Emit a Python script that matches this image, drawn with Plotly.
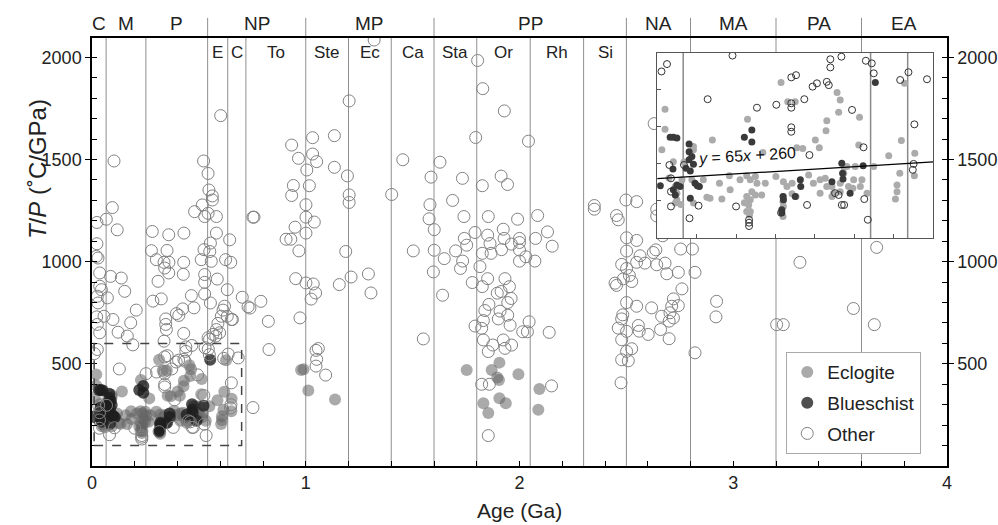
import plotly.graph_objects as go

FONT = "Liberation Sans, Arial, Helvetica, sans-serif"

# ---------------- data (age in Ga, T/P in °C/GPa) ----------------
eclogite = [
    (0.020, 448), (0.020, 394), (0.012, 338), (0.041, 306), (0.046, 239), (0.050, 221), (0.050, 203),
    (0.046, 194), (0.063, 257), (0.088, 257), (0.117, 257), (0.126, 210), (0.134, 207), (0.092, 194),
    (0.158, 248), (0.185, 230), (0.164, 205), (0.140, 365), (0.092, 347), (0.092, 338), (0.030, 262),
    (0.068, 305), (0.060, 190),
    (0.229, 421), (0.210, 257), (0.227, 268), (0.236, 257), (0.249, 266), (0.253, 248), (0.274, 248),
    (0.240, 225), (0.249, 216), (0.227, 212), (0.221, 195), (0.236, 203), (0.232, 189), (0.227, 171),
    (0.236, 171), (0.234, 162), (0.265, 216), (0.268, 331), (0.301, 266), (0.183, 268),
    (0.314, 520), (0.331, 468), (0.350, 468), (0.354, 344), (0.369, 342), (0.401, 365), (0.411, 344),
    (0.320, 252), (0.329, 239), (0.342, 248), (0.342, 219), (0.352, 212), (0.320, 212), (0.319, 198),
    (0.320, 185), (0.319, 158), (0.384, 270), (0.396, 248), (0.413, 221), (0.413, 257), (0.426, 261),
    (0.428, 390), (0.430, 417), (0.430, 239),
    (0.443, 239), (0.447, 221), (0.443, 212), (0.456, 493), (0.464, 473), (0.460, 440), (0.464, 248),
    (0.464, 225), (0.473, 275), (0.474, 291), (0.485, 239), (0.498, 257), (0.496, 234), (0.513, 426),
    (0.511, 351), (0.515, 239), (0.519, 257), (0.532, 221), (0.502, 293), (0.481, 293), (0.549, 293),
    (0.587, 322), (0.619, 363), (0.627, 518), (0.653, 329), (0.652, 268), (0.615, 275), (0.608, 243),
    (0.608, 225), (0.604, 205),
    (0.978, 470), (0.990, 473), (1.012, 370), (1.137, 325),
    (1.753, 470), (1.870, 470), (1.906, 506), (1.896, 433), (1.904, 421), (1.995, 449), (1.831, 307),
    (1.854, 259), (1.906, 332), (1.936, 307), (2.093, 377), (2.088, 275),
]

blueschist = [
    (0.033, 372), (0.041, 372), (0.050, 370), (0.081, 354), (0.081, 333), (0.088, 320), (0.081, 311),
    (0.092, 299), (0.084, 281), (0.073, 288), (0.040, 286), (0.008, 241), (0.050, 243), (0.041, 230),
    (0.046, 216), (0.058, 239), (0.096, 248), (0.102, 241), (0.107, 239), (0.084, 207),
    (0.221, 372), (0.240, 392), (0.240, 359), (0.319, 212), (0.320, 203), (0.316, 176), (0.316, 168),
    (0.350, 212), (0.363, 257), (0.364, 239), (0.443, 252),
    (0.468, 302), (0.470, 275), (0.471, 259), (0.489, 221), (0.522, 295), (0.553, 520),
]

other = [
    # 0-0.7 Ga, T/P < 600 (also shown in inset)
    (0.191, 593), (0.025, 570), (0.011, 550), (0.128, 475), (0.253, 452), (0.302, 460), (0.340, 534),
    (0.352, 540), (0.340, 464), (0.340, 452), (0.373, 475), (0.394, 509), (0.405, 518), (0.430, 522),
    (0.435, 513), (0.439, 583), (0.439, 561), (0.467, 590), (0.494, 446), (0.529, 579), (0.544, 572),
    (0.549, 545), (0.616, 527), (0.637, 548), (0.684, 529), (0.652, 407), (0.340, 399), (0.340, 387),
    (0.523, 345), (0.386, 324), (0.031, 297), (0.035, 261), (0.068, 297), (0.650, 300), (0.648, 284),
    (0.451, 221), (0.460, 216), (0.468, 189), (0.474, 189), (0.380, 189), (0.314, 168), (0.200, 185),
    (0.105, 187), (0.035, 185), (0.082, 153), (0.534, 149), (0.525, 205), (0.233, 149), (0.233, 141),
    (0.233, 132), (0.035, 225),
    # 0-0.8 Ga, higher T/P
    (0.602, 1715), (0.103, 1493), (0.522, 1493), (0.543, 1432), (0.547, 1351), (0.563, 1322),
    (0.563, 1302), (0.516, 1278), (0.480, 1245), (0.527, 1221), (0.582, 1221), (0.543, 1237),
    (0.095, 1265), (0.067, 1208), (0.023, 1192), (0.118, 1156), (0.753, 1218), (0.282, 1148),
    (0.359, 1132), (0.430, 1140), (0.582, 1140), (0.644, 1107), (0.554, 1091), (0.023, 1088),
    (0.524, 1059), (0.551, 1050), (0.278, 1054), (0.351, 1055), (0.020, 1026), (0.028, 1018),
    (0.301, 1010), (0.360, 997), (0.337, 997), (0.340, 969), (0.429, 997), (0.511, 1010), (0.558, 1002),
    (0.625, 1010), (0.649, 997), (0.036, 945), (0.359, 945), (0.427, 938), (0.087, 928), (0.137, 920),
    (0.527, 937), (0.527, 899), (0.309, 904), (0.586, 915), (0.036, 880), (0.044, 863), (0.153, 855),
    (0.633, 863), (0.025, 831), (0.072, 823), (0.285, 807), (0.324, 818), (0.465, 834), (0.527, 842),
    (0.703, 826), (0.028, 798), (0.554, 798), (0.730, 779), (0.207, 763), (0.477, 774), (0.424, 769),
    (0.395, 746), (0.406, 737), (0.620, 782), (0.613, 763), (0.633, 733), (0.652, 717), (0.022, 730),
    (0.056, 733), (0.098, 717), (0.181, 701), (0.345, 720), (0.345, 693), (0.589, 698), (0.582, 668),
    (0.597, 652), (0.566, 644), (0.122, 655), (0.165, 636), (0.025, 693), (0.036, 652), (0.337, 611),
    (0.429, 649), (0.543, 628), (0.657, 717), (0.348, 668), (0.605, 733), (0.579, 636), (0.550, 620),
    (0.753, 286),
    # 0.7-1.7 Ga
    (0.758, 1218), (0.790, 806), (0.739, 773), (0.825, 708), (0.828, 570), (0.934, 1571), (0.966, 1506),
    (1.005, 1449), (0.942, 1373), (0.934, 1324), (1.032, 1607), (1.032, 1527), (1.051, 1490),
    (1.134, 1617), (1.134, 1462), (1.203, 1787), (1.195, 1420), (1.203, 1327), (1.203, 1290),
    (1.017, 1372), (1.001, 1279), (1.001, 1218), (1.001, 1140), (1.040, 1194), (0.950, 1169),
    (0.908, 1110), (0.930, 1110), (0.968, 1053), (1.187, 1050), (0.953, 917), (1.001, 896), (1.035, 891),
    (1.046, 847), (1.025, 817), (1.157, 888), (1.212, 925), (1.293, 940), (1.305, 847), (0.973, 725),
    (1.059, 575), (1.048, 566), (1.051, 522), (1.048, 489), (1.093, 445), (1.454, 1499), (1.402, 1329),
    (1.503, 1053), (1.550, 622), (1.586, 1414), (1.628, 1487), (1.581, 1279), (1.577, 1210),
    (1.601, 1157), (1.601, 1056), (1.648, 1015), (1.597, 950), (1.640, 836), (1.687, 1300), (1.320, 2085),
    # 1.7-2.2 Ga
    (1.804, 1985), (1.828, 1847), (1.929, 1738), (1.795, 1608), (2.042, 1590), (1.733, 1408),
    (1.914, 1419), (1.944, 1378), (1.826, 1372), (1.740, 1221), (1.854, 1221), (1.991, 1208),
    (2.085, 1226), (1.701, 1053), (1.734, 1003), (1.724, 967), (1.742, 1114), (1.753, 1081),
    (1.792, 1143), (1.851, 1130), (1.862, 1089), (1.867, 1041), (1.826, 1041), (1.924, 1159),
    (1.928, 1114), (1.962, 1086), (1.916, 1059), (2.000, 1114), (2.000, 1094), (2.000, 1057),
    (2.000, 1003), (2.030, 1024), (2.075, 1114), (2.131, 1146), (2.153, 1076), (2.072, 1003),
    (1.815, 976), (1.779, 898), (1.826, 878), (1.851, 917), (1.932, 917), (1.896, 846), (1.914, 854),
    (1.953, 878), (1.961, 820), (1.945, 800), (1.857, 791), (1.838, 761), (1.831, 712), (1.909, 758),
    (1.945, 738), (1.956, 689), (1.901, 720), (1.792, 685), (1.823, 674), (2.045, 706), (2.015, 657),
    (2.037, 657), (2.139, 654), (1.831, 617), (1.875, 592), (1.924, 617), (1.963, 592), (1.854, 560),
    (1.932, 576), (1.823, 400), (1.859, 400), (2.150, 392), (1.854, 149),
    # 2.3-3.7 Ga
    (2.350, 1275), (2.350, 1257), (2.454, 1226), (2.462, 1205), (2.498, 1302), (2.501, 1117),
    (2.501, 1052), (2.478, 987), (2.501, 967), (2.514, 932), (2.486, 916), (2.525, 903), (2.447, 895),
    (2.454, 884), (2.501, 800), (2.483, 740), (2.478, 720), (2.462, 675), (2.501, 659), (2.478, 618),
    (2.501, 561), (2.525, 574), (2.478, 520), (2.509, 515), (2.475, 407), (2.548, 1294), (2.630, 1676),
    (2.642, 1257), (2.681, 1237), (2.705, 1254), (2.642, 1224), (2.673, 1197), (2.548, 1104),
    (2.670, 1127), (2.754, 1062), (2.809, 1062), (3.671, 1070), (2.564, 1029), (2.626, 1045),
    (2.638, 1058), (2.548, 997), (2.587, 993), (2.642, 985), (2.681, 993), (2.689, 941), (2.743, 948),
    (2.821, 948), (3.312, 997), (2.760, 867), (2.720, 818), (2.712, 782), (2.743, 785), (2.704, 750),
    (2.720, 725), (2.665, 733), (2.700, 709), (2.618, 774), (2.548, 782), (2.922, 806), (2.919, 730),
    (3.562, 771), (3.203, 692), (3.234, 692), (3.660, 692), (2.556, 688), (2.560, 660), (2.602, 644),
    (2.660, 668), (2.700, 623), (2.821, 554),
]

# geologic time scale
boundaries = [0.066, 0.252, 0.541, 0.635, 0.72, 1.0, 1.2, 1.4, 1.6, 1.8, 2.05, 2.3, 2.5, 2.8, 3.2, 3.6]
eon_era_boundaries = [0.541, 1.0, 1.6, 2.5, 2.8, 3.2, 3.6]
top_labels = ["C", "M", "P", "NP", "MP", "PP", "NA", "MA", "PA", "EA"]
top_label_age = [0.033, 0.159, 0.397, 0.77, 1.3, 2.05, 2.65, 3.0, 3.4, 3.8]
period_labels = ["E", "C", "To", "Ste", "Ec", "Ca", "Sta", "Or", "Rh", "Si"]
period_label_age = [0.588, 0.678, 0.86, 1.1, 1.3, 1.5, 1.7, 1.925, 2.175, 2.4]
inset_boundaries = [0.066, 0.541, 0.635]

# regression shown in the inset
fit_slope, fit_intercept = 65, 260
fit_age = [0.0, 0.7]
fit_tp = [fit_slope * a + fit_intercept for a in fit_age]

# inset window (dashed box)
box_age = (0.01, 0.70)
box_tp = (100, 600)
inset_range_x = [0, 0.7]
inset_range_y = [100, 600]


def xs(pts):
    return [p[0] for p in pts]


def ys(pts):
    return [p[1] for p in pts]


fig = go.Figure()

# main panel
fig.add_trace(go.Scatter(x=xs(eclogite), y=ys(eclogite), mode="markers", name="Eclogite",
                         legendgroup="e",
                         marker=dict(size=12, color="rgba(100,100,100,0.55)", line=dict(width=0)),
                         xaxis="x", yaxis="y"))
fig.add_trace(go.Scatter(x=xs(blueschist), y=ys(blueschist), mode="markers", name="Blueschist",
                         legendgroup="b",
                         marker=dict(size=12, color="rgba(30,30,30,0.78)", line=dict(width=0)),
                         xaxis="x", yaxis="y"))
fig.add_trace(go.Scatter(x=xs(other), y=ys(other), mode="markers", name="Other",
                         legendgroup="o",
                         marker=dict(size=12, color="rgba(0,0,0,0)", line=dict(width=1, color="#828282")),
                         xaxis="x", yaxis="y"))
# invisible trace to carry the right-hand axis
fig.add_trace(go.Scatter(x=[None], y=[None], mode="markers", showlegend=False, hoverinfo="skip",
                         xaxis="x", yaxis="y3"))

# inset panel
fig.add_trace(go.Scatter(x=xs(eclogite), y=ys(eclogite), mode="markers", showlegend=False,
                         marker=dict(size=7, color="#ababab", line=dict(width=0)),
                         xaxis="x2", yaxis="y2"))
fig.add_trace(go.Scatter(x=xs(blueschist), y=ys(blueschist), mode="markers", showlegend=False,
                         marker=dict(size=7, color="#3a3a3a", line=dict(width=0)),
                         xaxis="x2", yaxis="y2"))
fig.add_trace(go.Scatter(x=xs(other), y=ys(other), mode="markers", showlegend=False,
                         marker=dict(size=7, color="rgba(0,0,0,0)", line=dict(width=1, color="#333333")),
                         xaxis="x2", yaxis="y2"))
fig.add_trace(go.Scatter(x=fit_age, y=fit_tp, mode="lines", showlegend=False,
                         line=dict(color="black", width=1.3), xaxis="x2", yaxis="y2"))

shapes = []
for b in boundaries:
    shapes.append(dict(type="line", xref="x", yref="paper", x0=b, x1=b, y0=0, y1=1,
                       line=dict(color="#8f8f8f", width=1), layer="below"))
for b in eon_era_boundaries:
    shapes.append(dict(type="line", xref="x", yref="paper", x0=b, x1=b, y0=1, y1=1.047,
                       line=dict(color="#8f8f8f", width=1), layer="below"))
shapes.append(dict(type="rect", xref="x", yref="y", x0=box_age[0], x1=box_age[1],
                   y0=box_tp[0], y1=box_tp[1], line=dict(color="#444444", width=1.5, dash="dash"),
                   fillcolor="rgba(0,0,0,0)", layer="above"))
# inset background (semi-transparent white), drawn in inset subplot below its traces
shapes.append(dict(type="rect", xref="x2", yref="y2", x0=inset_range_x[0], x1=inset_range_x[1],
                   y0=inset_range_y[0], y1=inset_range_y[1], line=dict(width=0),
                   fillcolor="rgba(255,255,255,0.75)", layer="below"))
for b in inset_boundaries:
    shapes.append(dict(type="line", xref="x2", yref="y2", x0=b, x1=b, y0=inset_range_y[0],
                       y1=inset_range_y[1], line=dict(color="#8a8a8a", width=1.5), layer="below"))

annotations = []
for lab, a in zip(top_labels, top_label_age):
    annotations.append(dict(text=lab, x=a, y=1.035, xref="x", yref="paper", showarrow=False,
                            xanchor="center", yanchor="middle", font=dict(size=19, color="#222")))
for lab, a in zip(period_labels, period_label_age):
    annotations.append(dict(text=lab, x=a, y=2025, xref="x", yref="y", showarrow=False,
                            xanchor="center", yanchor="middle", font=dict(size=17, color="#222")))
annotations.append(dict(text="<i>T</i>/<i>P</i> (\u02daC/GPa)", x=-0.063, y=0.694, xref="paper",
                        yref="paper", showarrow=False, textangle=-90, xanchor="center",
                        yanchor="middle", font=dict(size=24, color="#222")))
annotations.append(dict(text="Age (Ga)", x=0.5, y=-0.103, xref="paper", yref="paper",
                        showarrow=False, xanchor="center", yanchor="middle",
                        font=dict(size=21, color="#222")))
annotations.append(dict(text="<i>y</i> = 65<i>x</i> + 260", x=0.228, y=322, xref="x2", yref="y2",
                        showarrow=False, textangle=-3.5, xanchor="center", yanchor="middle",
                        font=dict(size=16, color="#111")))

axis_common = dict(showgrid=False, zeroline=False, showline=True, linecolor="black", linewidth=1.5,
                   automargin=False)

fig.update_layout(
    width=998, height=525, autosize=False,
    margin=dict(l=92, r=51, t=38, b=59, autoexpand=False),
    paper_bgcolor="white", plot_bgcolor="white",
    font=dict(family=FONT, size=18, color="#222"),
    showlegend=True,
    legend=dict(x=0.812, y=0.266, xanchor="left", yanchor="top", bgcolor="white",
                bordercolor="#aaaaaa", borderwidth=1, font=dict(size=19), tracegroupgap=3,
                itemwidth=30),
    xaxis=dict(domain=[0, 1], range=[0, 4], tickvals=[0, 1, 2, 3, 4], ticks="inside", ticklen=5,
               tickcolor="black", mirror=True,
               minor=dict(dtick=0.2, ticks="inside", ticklen=5, tickcolor="black"),
               tickfont=dict(size=18), anchor="y", **axis_common),
    yaxis=dict(domain=[0, 1], range=[0, 2095], tickvals=[500, 1000, 1500, 2000], ticks="outside",
               ticklen=5, tickcolor="black",
               minor=dict(dtick=100, ticks="inside", ticklen=5, tickcolor="black"),
               tickfont=dict(size=18), anchor="x", **axis_common),
    yaxis3=dict(overlaying="y", side="right", anchor="x", range=[0, 2095],
                tickvals=[500, 1000, 1500, 2000], ticks="outside", ticklen=5, tickcolor="black",
                minor=dict(dtick=100, ticks="inside", ticklen=5, tickcolor="black"),
                tickfont=dict(size=18), **axis_common),
    xaxis2=dict(domain=[0.661, 0.984], anchor="y2", range=inset_range_x, dtick=0.1, tick0=0,
                ticks="inside", ticklen=4, tickcolor="#555", showticklabels=False, showgrid=False,
                zeroline=False, showline=True, linecolor="#555", linewidth=1, mirror=True,
                automargin=False),
    yaxis2=dict(domain=[0.533, 0.965], anchor="x2", range=inset_range_y, dtick=100, tick0=0,
                ticks="inside", ticklen=4, tickcolor="#555", showticklabels=False, showgrid=False,
                zeroline=False, showline=True, linecolor="#555", linewidth=1, mirror=True,
                automargin=False),
    shapes=shapes,
    annotations=annotations,
)

fig.write_html("out.html", config={"responsive": False, "displayModeBar": False},
               post_script="document.body.style.margin='0';")
